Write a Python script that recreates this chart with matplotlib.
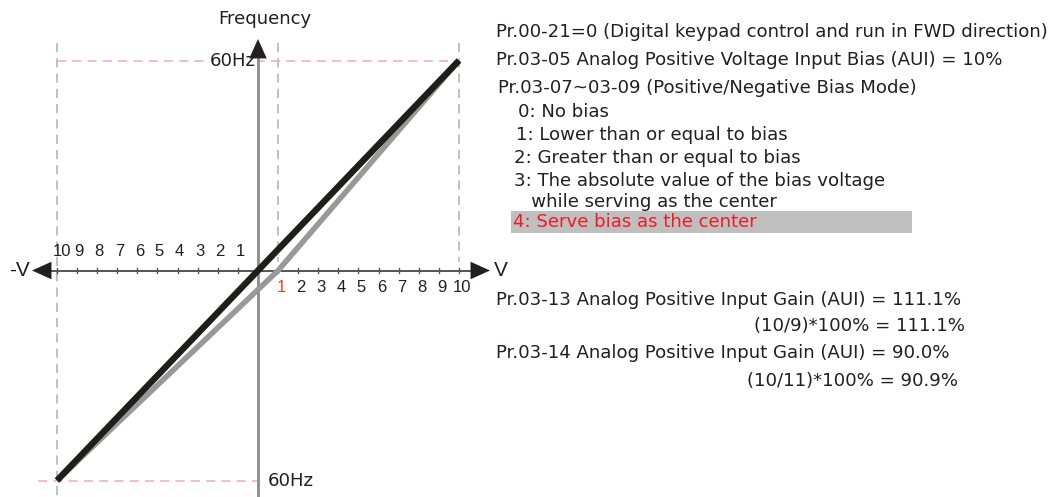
import matplotlib
matplotlib.use("Agg")
import matplotlib.pyplot as plt
from matplotlib.patches import Rectangle

plt.rcParams['font.family'] = ['DejaVu Sans']

# ---- data ----
max_volt = 10
max_freq = 60
bias_volt = 1
neg_tick_labels = [10, 9, 8, 7, 6, 5, 4, 3, 2, 1]
pos_tick_labels = [1, 2, 3, 4, 5, 6, 7, 8, 9, 10]
no_bias_volts = [-10, 10]
no_bias_freqs = [-60, 60]
center_bias_volts = [-10, 1, 10]
center_bias_freqs = [-60, 0, 60]

info_lines = [
    "Pr.00-21=0 (Digital keypad control and run in FWD direction)",
    "Pr.03-05 Analog Positive Voltage Input Bias (AUI) = 10%",
    "Pr.03-07~03-09 (Positive/Negative Bias Mode)",
]
mode_lines = [
    "0: No bias",
    "1: Lower than or equal to bias",
    "2: Greater than or equal to bias",
    "3: The absolute value of the bias voltage",
    "   while serving as the center",
]
selected_mode = "4: Serve bias as the center"
gain_lines = [
    "Pr.03-13 Analog Positive Input Gain (AUI) = 111.1%",
    "(10/9)*100% = 111.1%",
    "Pr.03-14 Analog Positive Input Gain (AUI) = 90.0%",
    "(10/11)*100% = 90.9%",
]

# ---- layout ----
W, H = 1059, 497
fig = plt.figure(figsize=(W / 100, H / 100), dpi=100)
ax = fig.add_axes([0, 0, 1, 1])
ax.axis('off')

ORIG_X, ORIG_Y = 258, 270.5   # origin in pixels
UX, UY = 20.1, 3.5            # pixels per volt / per Hz
ax.set_xlim((0 - ORIG_X) / UX, (W - ORIG_X) / UX)
ax.set_ylim((ORIG_Y - H) / UY, ORIG_Y / UY)


def v_of(px):
    return (px - ORIG_X) / UX


def f_of(py):
    return (ORIG_Y - py) / UY


def fpos(px, py):
    return px / W, 1 - py / H


TXT = '#231f20'
FS = 13.1

# guide lines
dash_gray = dict(color='#b0b0b0', lw=1.1, ls=(0, (6, 4)), zorder=1)
ax.plot([-max_volt, -max_volt], [f_of(43), f_of(H)], **dash_gray)
ax.plot([bias_volt, bias_volt], [f_of(43), f_of(262)], **dash_gray)
ax.plot([max_volt, max_volt], [f_of(43), f_of(262)], **dash_gray)
dash_pink = dict(color='#f4a9c0', lw=1.1, ls=(0, (6, 4)), zorder=1)
ax.plot([-max_volt, max_volt], [max_freq, max_freq], **dash_pink)
ax.plot([v_of(38), 0], [-max_freq, -max_freq], **dash_pink)

# axes with arrowheads
ax.plot([v_of(45), v_of(478)], [0, 0], color='#555555', lw=1.4, zorder=3)
ax.plot([0, 0], [f_of(H), f_of(52)], color='#8a8a8a', lw=2, zorder=3)
head = dict(arrowstyle='-|>,head_length=1.0,head_width=0.45', color='#231f20',
            lw=0, mutation_scale=14, shrinkA=0, shrinkB=0)
ax.annotate('', xy=(v_of(490), 0), xytext=(v_of(470), 0), arrowprops=head, zorder=4)
ax.annotate('', xy=(v_of(32), 0), xytext=(v_of(52), 0), arrowprops=head, zorder=4)
ax.annotate('', xy=(0, f_of(39)), xytext=(0, f_of(59)), arrowprops=head, zorder=4)

# tick marks and labels
for v in neg_tick_labels:
    ax.plot([-v, -v], [f_of(ORIG_Y - 2.5), f_of(ORIG_Y + 2.5)], color='#555555', lw=1, zorder=3)
    x = v_of(62) if v == 10 else -v + 0.1
    ax.text(x, f_of(252), str(v), ha='center', va='center', fontsize=12, color=TXT,
            family='Liberation Sans')
for v in pos_tick_labels:
    ax.plot([v, v], [f_of(ORIG_Y - 2.5), f_of(ORIG_Y + 2.5)], color='#555555', lw=1, zorder=3)
    col = '#e8481c' if v == bias_volt else TXT
    ax.text(v + 0.15, f_of(288), str(v), ha='center', va='center', fontsize=12, color=col,
            family='Liberation Sans')

ax.text(v_of(30), 0, '-V', ha='right', va='center', fontsize=15, color=TXT,
        family='Liberation Sans')
ax.text(v_of(494), 0, 'V', ha='left', va='center', fontsize=15, color=TXT,
        family='Liberation Sans')
ax.text(v_of(265), f_of(19), 'Frequency', ha='center', va='center', fontsize=FS, color=TXT)
ax.text(v_of(256), max_freq, '60Hz', ha='right', va='center', fontsize=FS, color=TXT,
        bbox=dict(facecolor='white', edgecolor='none', pad=1), zorder=2)
ax.text(v_of(268), -max_freq, '60Hz', ha='left', va='center', fontsize=FS, color=TXT)

# frequency curves
ax.plot(center_bias_volts, center_bias_freqs, color='#999999', lw=4, zorder=5,
        solid_capstyle='butt', solid_joinstyle='round')
ax.plot(no_bias_volts, no_bias_freqs, color='#1e1e1c', lw=4.6, zorder=6,
        solid_capstyle='butt')

# parameter notes
for text, (x, y) in zip(info_lines, [(496, 32), (496, 60), (498, 88)]):
    fig.text(*fpos(x, y), text, ha='left', va='center', fontsize=FS, color=TXT)
for text, (x, y) in zip(mode_lines, [(518, 112), (516, 135), (514, 158), (514, 181), (514, 202)]):
    fig.text(*fpos(x, y), text, ha='left', va='center', fontsize=FS, color=TXT)

fig.patches.append(Rectangle(fpos(511, 233), (912 - 511) / W, (233 - 211) / H,
                             transform=fig.transFigure, facecolor='#c0bfbf',
                             edgecolor='none', zorder=0))
fig.text(*fpos(513, 222), selected_mode, ha='left', va='center', fontsize=FS, color='#ee1c24')

fig.text(*fpos(496, 300), gain_lines[0], ha='left', va='center', fontsize=FS, color=TXT)
fig.text(*fpos(965, 326), gain_lines[1], ha='right', va='center', fontsize=FS, color=TXT)
fig.text(*fpos(496, 353), gain_lines[2], ha='left', va='center', fontsize=FS, color=TXT)
fig.text(*fpos(958, 381), gain_lines[3], ha='right', va='center', fontsize=FS, color=TXT)

fig.savefig('out.png', dpi=100)
